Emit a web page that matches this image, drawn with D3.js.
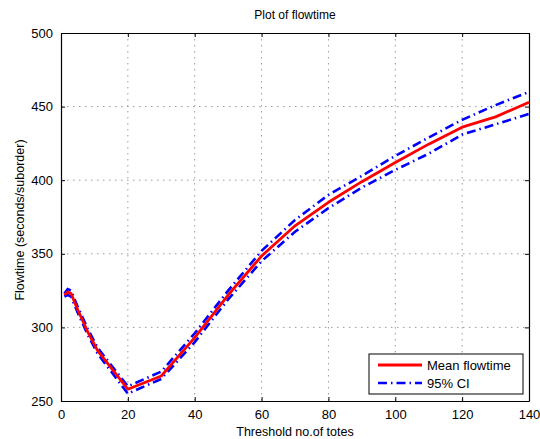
<!DOCTYPE html>
<html><head><meta charset="utf-8">
<script src="https://cdn.jsdelivr.net/npm/d3@7"></script>
<style>
body{margin:0;background:#fff;}
text{font-family:"Liberation Sans",Arial,Helvetica,sans-serif;}
</style></head>
<body>
<svg id="c" width="540" height="439"></svg>
<script>
const thresholds = [1, 2, 3, 5, 8, 11, 20, 30, 40, 50, 60, 70, 80, 90, 100, 110, 120, 130, 140];
const meanFlow  = [322, 324, 323, 312, 297, 284, 258, 267, 293, 322, 348.5, 369, 385, 399, 412, 424.5, 436, 443, 453];
const ciUpper   = [323, 326, 325, 314, 299, 286, 260, 270, 296, 325, 352, 373, 390, 403, 416.5, 429, 441, 451, 460];
const ciLower   = [321, 322, 321, 310, 295, 282, 255, 265, 290, 319, 345, 365, 381, 395, 407, 418, 431, 438, 445];
const xTicks = [0, 20, 40, 60, 80, 100, 120, 140];
const yTicks = [250, 300, 350, 400, 450, 500];
const legendLabels = ["Mean flowtime", "95% CI"];

const svg = d3.select("#c");
const L = 61, R = 529, T = 33, B = 401;
const x = d3.scaleLinear().domain([0, 140]).range([L, R]);
const y = d3.scaleLinear().domain([250, 500]).range([B, T]);

// grid
const grid = svg.append("g");
grid.selectAll("line.gx").data(xTicks.slice(1, -1)).join("line")
  .attr("x1", d => x(d)).attr("x2", d => x(d)).attr("y1", T).attr("y2", B)
  .attr("stroke", "#9a9a9a").attr("stroke-width", 1).attr("stroke-dasharray", "1.5,4.5");
grid.selectAll("line.gy").data(yTicks.slice(1, -1)).join("line")
  .attr("y1", d => y(d)).attr("y2", d => y(d)).attr("x1", L).attr("x2", R)
  .attr("stroke", "#9a9a9a").attr("stroke-width", 1).attr("stroke-dasharray", "1.5,4.5");

// axes
const fmt = d3.format("d");
const axB = svg.append("g").attr("transform", `translate(0,${B})`)
  .call(d3.axisBottom(x).tickValues(xTicks).tickFormat(fmt).tickSizeInner(-4).tickSizeOuter(0).tickPadding(9));
const axT = svg.append("g").attr("transform", `translate(0,${T})`)
  .call(d3.axisTop(x).tickValues(xTicks).tickFormat("").tickSizeInner(-4).tickSizeOuter(0));
const axL = svg.append("g").attr("transform", `translate(${L},0)`)
  .call(d3.axisLeft(y).tickValues(yTicks).tickFormat(fmt).tickSizeInner(-4).tickSizeOuter(0).tickPadding(8));
const axR = svg.append("g").attr("transform", `translate(${R},0)`)
  .call(d3.axisRight(y).tickValues(yTicks).tickFormat("").tickSizeInner(-4).tickSizeOuter(0));
[axB, axT, axL, axR].forEach(a => {
  a.select(".domain").attr("stroke", "#000").attr("stroke-width", 1.2);
  a.selectAll(".tick line").attr("stroke", "#000");
  a.selectAll("text").attr("font-size", 13).attr("fill", "#000")
   .style("font-family", '"Liberation Sans",Arial,sans-serif');
});

// lines
const line = d3.line().x((d, i) => x(thresholds[i])).y(d => y(d));
const dashCI = "9,4,1.5,4";
svg.append("path").datum(ciUpper).attr("d", line).attr("fill", "none")
  .attr("stroke", "#0000ff").attr("stroke-width", 2.6).attr("stroke-dasharray", dashCI);
svg.append("path").datum(ciLower).attr("d", line).attr("fill", "none")
  .attr("stroke", "#0000ff").attr("stroke-width", 2.6).attr("stroke-dasharray", dashCI);
svg.append("path").datum(meanFlow).attr("d", line).attr("fill", "none")
  .attr("stroke", "#ff0000").attr("stroke-width", 2.8).attr("stroke-linejoin", "round");

// labels
svg.append("text").attr("x", (L + R) / 2).attr("y", 19).attr("text-anchor", "middle")
  .attr("font-size", 12).text("Plot of flowtime");
svg.append("text").attr("x", (L + R) / 2).attr("y", 436).attr("text-anchor", "middle")
  .attr("font-size", 12.5).text("Threshold no.of totes");
svg.append("text").attr("transform", `translate(24,220) rotate(-90)`)
  .attr("text-anchor", "middle").attr("font-size", 12.5).text("Flowtime (seconds/suborder)");

// legend
const lg = svg.append("g");
lg.append("rect").attr("x", 369).attr("y", 354).attr("width", 154).attr("height", 40)
  .attr("fill", "#fff").attr("stroke", "#000").attr("stroke-width", 1);
const legStyles = [{c: "#ff0000", w: 2.8, d: null}, {c: "#0000ff", w: 2.6, d: dashCI}];
legendLabels.forEach((lab, i) => {
  const yy = 365 + i * 18;
  const ln = lg.append("line").attr("x1", 378).attr("x2", 422).attr("y1", yy).attr("y2", yy)
    .attr("stroke", legStyles[i].c).attr("stroke-width", legStyles[i].w);
  if (legStyles[i].d) ln.attr("stroke-dasharray", legStyles[i].d);
  lg.append("text").attr("x", 427).attr("y", yy + 4.5).attr("font-size", 13).text(lab);
});
</script>
</body></html>
